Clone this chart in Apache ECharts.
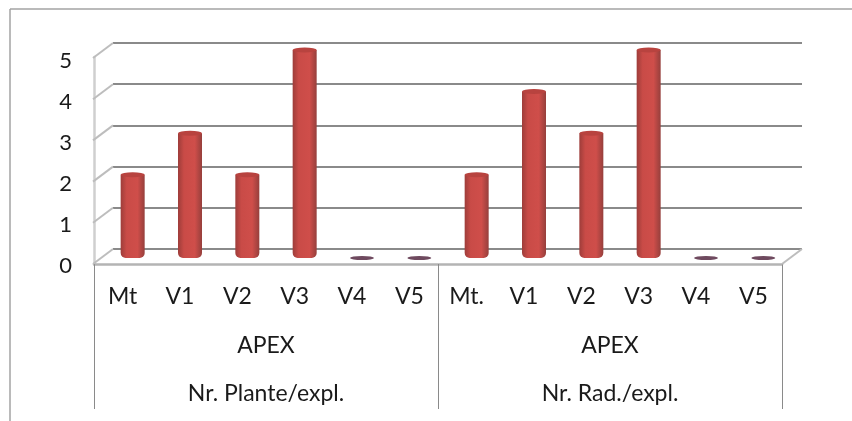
<!DOCTYPE html>
<html>
<head>
<meta charset="utf-8">
<style type="text/css">
	html,body{margin:0;padding:0;background:#fff;}
	#chart_div{width:852px;height:421px;}
</style>
<script src="https://cdn.jsdelivr.net/npm/echarts@6/dist/echarts.min.js"></script>
</head>
<body>
<div id="chart_div"></div>
<script>
	var categories = ['Mt','V1','V2','V3','V4','V5','Mt.','V1','V2','V3','V4','V5'];
	var middle_labels = ['APEX','APEX'];
	var group_labels = ['Nr. Plante/expl.','Nr. Rad./expl.'];
	var plante_values = [2,3,2,5,0,0];
	var rad_values = [2,4,3,5,0,0];
	var all_values = plante_values.concat(rad_values);
	var y_ticks = [0,1,2,3,4,5];

	var font = 'Lato';
	var text_color = '#1a1a1a';

	// slanted lines from the back wall to the front edge, 3d look
	var wall_points = y_ticks.map(function(v){ return [0,v]; });
	wall_points.push([1,0]);

	var chart = echarts.init(document.getElementById('chart_div'));
	chart.setOption({
		animation: false,
		graphic: [
			{type:'line', silent:true, shape:{x1:10,y1:9,x2:852,y2:9}, style:{stroke:'#a3a3a3',lineWidth:1.5}},
			{type:'line', silent:true, shape:{x1:10,y1:9,x2:10,y2:421}, style:{stroke:'#a3a3a3',lineWidth:1.5}}
		],
		grid: [
			{left:113, top:43, width:689, height:206},	// back wall
			{left:94, top:57, width:688, height:207},	// front edge, labels
			{left:104, top:50, width:688, height:208},	// bars
			{left:94, top:61, width:688, height:205}	// y labels sit a bit under the front ticks
		],
		xAxis: [
			{gridIndex:0, type:'value', min:0, max:1, show:false},
			{
				gridIndex:1, type:'category', data:categories, position:'bottom',
				axisLine:{show:true, onZero:false, lineStyle:{color:'#b4b4b4',width:2.5}},
				axisTick:{show:false},
				axisLabel:{interval:0, margin:21, fontFamily:font, fontSize:23, color:text_color}
			},
			{
				gridIndex:1, type:'category', data:middle_labels, position:'bottom',
				axisLine:{show:false},
				axisTick:{show:false},
				axisLabel:{interval:0, margin:70, fontFamily:font, fontSize:23, color:text_color}
			},
			{
				gridIndex:1, type:'category', data:group_labels, position:'bottom',
				axisLine:{show:false},
				axisTick:{show:true, inside:false, length:145, alignWithLabel:false, interval:0, lineStyle:{color:'#8a8a8a',width:1}},
				axisLabel:{interval:0, margin:118, fontFamily:font, fontSize:23, color:text_color}
			},
			{gridIndex:2, type:'category', data:categories, show:false},
			{gridIndex:3, type:'category', data:categories, show:false}
		],
		yAxis: [
			{
				gridIndex:0, type:'value', min:0, max:5, interval:1,
				axisLine:{show:false}, axisTick:{show:false}, axisLabel:{show:false},
				splitLine:{show:true, lineStyle:{color:'#8a8a8a',width:2}}
			},
			{
				gridIndex:1, type:'value', min:0, max:5, interval:1,
				axisLine:{show:true, onZero:false, lineStyle:{color:'#cfcfcf',width:2.5}},
				axisTick:{show:false}, axisLabel:{show:false},
				splitLine:{show:false}
			},
			{gridIndex:2, type:'value', min:0, max:5, interval:1, show:false, splitLine:{show:false}},
			{
				gridIndex:3, type:'value', min:0, max:5, interval:1,
				axisLine:{show:false}, axisTick:{show:false},
				axisLabel:{margin:22, fontFamily:font, fontSize:22, color:text_color},
				splitLine:{show:false}
			}
		],
		series: [
			{
				type:'custom', xAxisIndex:0, yAxisIndex:0, silent:true, z:1,
				data: wall_points,
				renderItem: function(params, api){
					var p = api.coord([api.value(0), api.value(1)]);
					return {
						type:'line',
						shape:{x1:p[0], y1:p[1], x2:p[0]-20, y2:p[1]+15},
						style:{stroke:'#bdbdbd', lineWidth:2}
					};
				}
			},
			{
				type:'bar', xAxisIndex:4, yAxisIndex:2, z:3, silent:true,
				barWidth:24,
				data: all_values,
				itemStyle:{
					borderRadius:[0,0,5,5],
					color:new echarts.graphic.LinearGradient(0,0,1,0,[
						{offset:0,color:'#9e3d3a'},
						{offset:0.25,color:'#c94b47'},
						{offset:0.7,color:'#cf4e4a'},
						{offset:1,color:'#963f3c'}
					])
				}
			},
			{
				// top of the cylinders, the zero ones are only this flat dash
				type:'scatter', xAxisIndex:4, yAxisIndex:2, z:4, silent:true,
				symbol:'circle', symbolSize:function(v){ return v === 0 ? [24,4] : [24,5]; },
				data: all_values,
				itemStyle:{
					opacity:1,
					color:function(p){ return p.value === 0 ? '#6f4a5f' : '#b8433f'; }
				}
			}
		]
	});
</script>
</body>
</html>
